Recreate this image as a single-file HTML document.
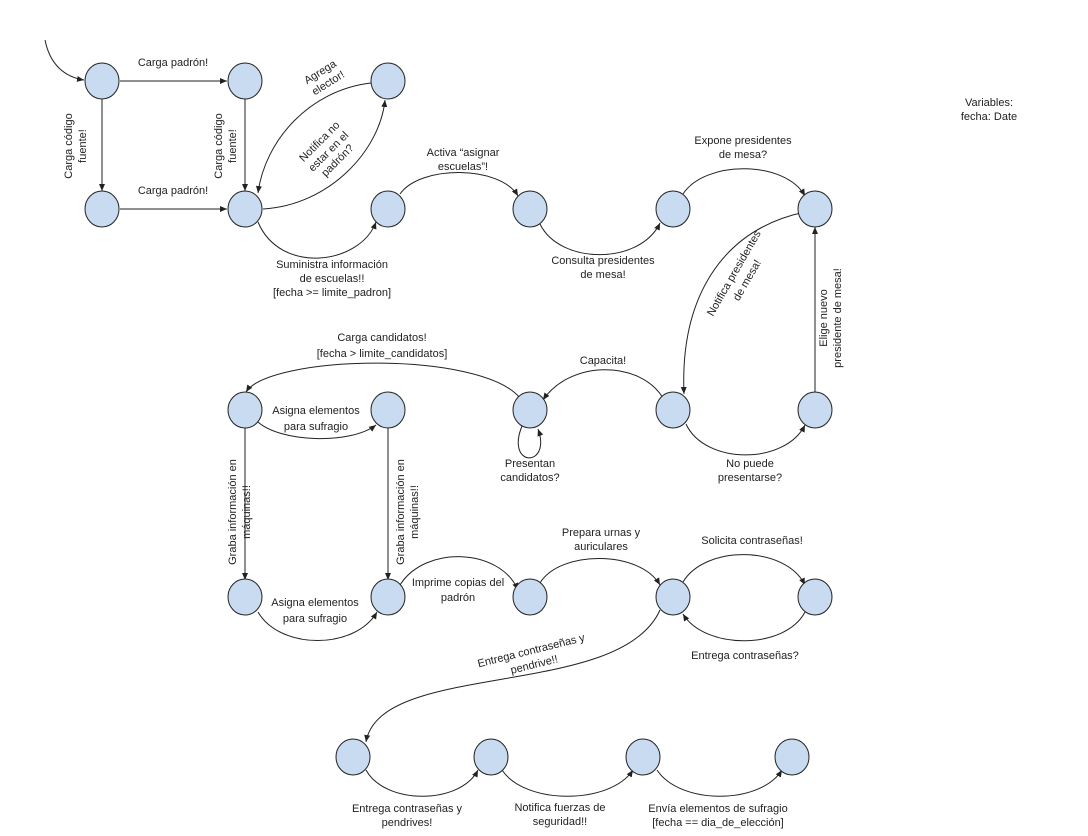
<!DOCTYPE html>
<html><head><meta charset="utf-8"><style>
html,body{margin:0;padding:0;background:#fff;}
svg{display:block;}
text{font-family:"Liberation Sans",sans-serif;font-size:11px;fill:#222;text-anchor:middle;}
</style></head><body>
<svg width="1088" height="836" viewBox="0 0 1088 836">
<defs><marker id="a" markerWidth="8" markerHeight="8" refX="7" refY="4" orient="auto" markerUnits="userSpaceOnUse"><path d="M0,1 L7,4 L0,7 Z" fill="#222"/></marker></defs>
<g fill="none" stroke="#222" stroke-width="1" marker-end="url(#a)">
<path d="M45,40 C50,65 65,77 84,80"/>
<path d="M120,81 L227,81"/>
<path d="M102,99 L102,191"/>
<path d="M245,99 L245,191"/>
<path d="M120,209 L227,209"/>
<path d="M263,209 C330,205 380,150 385,100"/>
<path d="M371,83 C310,90 265,140 258,193"/>
<path d="M258,222 C280,275 360,265 376,222"/>
<path d="M400,194 C420,165 500,165 518,196"/>
<path d="M540,224 C560,265 640,265 660,223"/>
<path d="M683,194 C705,160 785,160 805,196"/>
<path d="M805,212 C720,230 680,300 684,394"/>
<path d="M815,392 L815,227"/>
<path d="M686,424 C705,465 785,465 805,425"/>
<path d="M663,398 C640,360 570,360 543,400"/>
<path d="M522,426 C505,468 552,468 538,429"/>
<path d="M520,398 C480,350 270,355 246,392"/>
<path d="M258,422 C280,442 350,445 376,425"/>
<path d="M245,428 L245,580"/>
<path d="M388,428 L388,580"/>
<path d="M258,612 C280,650 355,650 377,612"/>
<path d="M400,585 C425,545 500,548 518,590"/>
<path d="M540,583 C560,550 640,550 660,585"/>
<path d="M683,582 C705,545 785,545 805,585"/>
<path d="M805,612 C785,650 705,650 683,614"/>
<path d="M660,610 C620,700 380,660 366,742"/>
<path d="M366,770 C385,805 460,805 478,770"/>
<path d="M502,770 C525,805 610,805 633,770"/>
<path d="M657,770 C680,805 760,805 782,770"/>
</g>
<g fill="#c9dbf0" stroke="#222" stroke-width="1">
<ellipse cx="102" cy="81" rx="17" ry="18"/><ellipse cx="245" cy="81" rx="17" ry="18"/><ellipse cx="388" cy="81" rx="17" ry="18"/>
<ellipse cx="102" cy="209" rx="17" ry="18"/><ellipse cx="245" cy="209" rx="17" ry="18"/><ellipse cx="388" cy="209" rx="17" ry="18"/>
<ellipse cx="530" cy="209" rx="17" ry="18"/><ellipse cx="673" cy="209" rx="17" ry="18"/><ellipse cx="815" cy="209" rx="17" ry="18"/>
<ellipse cx="245" cy="410" rx="17" ry="18"/><ellipse cx="388" cy="410" rx="17" ry="18"/><ellipse cx="530" cy="410" rx="17" ry="18"/>
<ellipse cx="673" cy="410" rx="17" ry="18"/><ellipse cx="815" cy="410" rx="17" ry="18"/>
<ellipse cx="245" cy="597" rx="17" ry="18"/><ellipse cx="388" cy="597" rx="17" ry="18"/><ellipse cx="530" cy="597" rx="17" ry="18"/>
<ellipse cx="673" cy="597" rx="17" ry="18"/><ellipse cx="815" cy="597" rx="17" ry="18"/>
<ellipse cx="353" cy="757" rx="17" ry="18"/><ellipse cx="491" cy="757" rx="17" ry="18"/><ellipse cx="643" cy="757" rx="17" ry="18"/><ellipse cx="792" cy="757" rx="17" ry="18"/>
</g>
<text x="173" y="66">Carga padrón!</text>
<text x="173" y="194">Carga padrón!</text>
<text transform="translate(72,146) rotate(-90)">Carga código</text>
<text transform="translate(86,146) rotate(-90)">fuente!</text>
<text transform="translate(222,146) rotate(-90)">Carga código</text>
<text transform="translate(236,146) rotate(-90)">fuente!</text>
<text transform="translate(322,75) rotate(-32)">Agrega</text>
<text transform="translate(330,86) rotate(-32)">elector!</text>
<text transform="translate(322,144) rotate(-45)">Notifica no</text>
<text transform="translate(331,154) rotate(-45)">estar en el</text>
<text transform="translate(340,163) rotate(-45)">padrón?</text>
<text x="332" y="268">Suministra información</text>
<text x="332" y="282">de escuelas!!</text>
<text x="332" y="296">[fecha &gt;= limite_padron]</text>
<text x="463" y="156">Activa “asignar</text>
<text x="463" y="170">escuelas”!</text>
<text x="603" y="264">Consulta presidentes</text>
<text x="603" y="278">de mesa!</text>
<text x="743" y="144">Expone presidentes</text>
<text x="743" y="158">de mesa?</text>
<text transform="translate(737,275) rotate(-60)">Notifica presidentes</text>
<text transform="translate(750,282) rotate(-60)">de mesa!</text>
<text transform="translate(827,318) rotate(-90)">Elige nuevo</text>
<text transform="translate(841,318) rotate(-90)">presidente de mesa!</text>
<text x="750" y="467">No puede</text>
<text x="750" y="481">presentarse?</text>
<text x="603" y="364">Capacita!</text>
<text x="530" y="467">Presentan</text>
<text x="530" y="481">candidatos?</text>
<text x="382" y="341">Carga candidatos!</text>
<text x="382" y="357">[fecha &gt; limite_candidatos]</text>
<text x="316" y="414">Asigna elementos</text>
<text x="316" y="430">para sufragio</text>
<text transform="translate(236,512) rotate(-90)">Graba información en</text>
<text transform="translate(250,512) rotate(-90)">máquinas!!</text>
<text transform="translate(404,512) rotate(-90)">Graba información en</text>
<text transform="translate(418,512) rotate(-90)">máquinas!!</text>
<text x="315" y="606">Asigna elementos</text>
<text x="315" y="622">para sufragio</text>
<text x="458" y="586">Imprime copias del</text>
<text x="458" y="601">padrón</text>
<text x="601" y="536">Prepara urnas y</text>
<text x="601" y="550">auriculares</text>
<text x="752" y="544">Solicita contraseñas!</text>
<text x="745" y="659">Entrega contraseñas?</text>
<text transform="translate(532,654) rotate(-14)">Entrega contraseñas y</text>
<text transform="translate(535,668) rotate(-14)">pendrive!!</text>
<text x="407" y="812">Entrega contraseñas y</text>
<text x="407" y="826">pendrives!</text>
<text x="560" y="811">Notifica fuerzas de</text>
<text x="560" y="825">seguridad!!</text>
<text x="718" y="812">Envía elementos de sufragio</text>
<text x="718" y="826">[fecha == dia_de_elección]</text>
<text x="989" y="106">Variables:</text>
<text x="989" y="120">fecha: Date</text>
</svg>
</body></html>
